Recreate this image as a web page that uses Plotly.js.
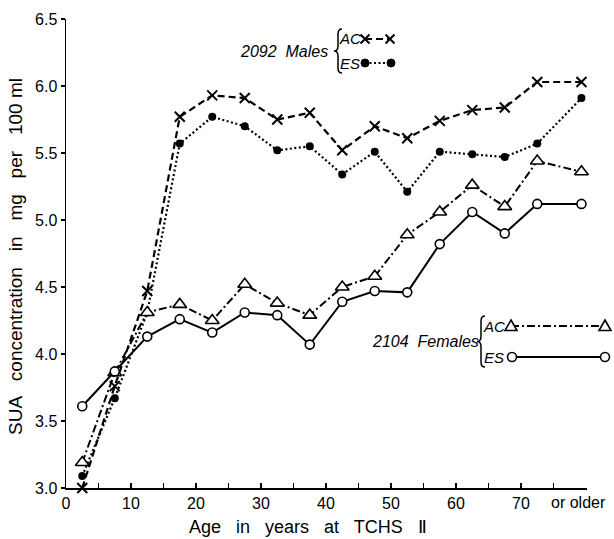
<!DOCTYPE html>
<html>
<head>
<meta charset="utf-8">
<script src="https://cdn.plot.ly/plotly-3.0.1.min.js"></script>
<style>html,body{margin:0;padding:0;background:#fff;}#chart{width:614px;height:539px;}</style>
</head>
<body>
<div id="chart"></div>
<script>
// ---- data ----
const ages = [2.5, 7.5, 12.5, 17.5, 22.5, 27.5, 32.5, 37.5, 42.5, 47.5, 52.5, 57.5, 62.5, 67.5, 72.5, 79.3];
const maleAC   = [3.00, 3.76, 4.47, 5.77, 5.93, 5.91, 5.75, 5.80, 5.52, 5.70, 5.61, 5.74, 5.82, 5.84, 6.03, 6.03];
const maleES   = [3.09, 3.67, 4.31, 5.57, 5.77, 5.70, 5.52, 5.55, 5.34, 5.51, 5.21, 5.51, 5.49, 5.47, 5.57, 5.91];
const femaleAC = [3.19, 3.86, 4.31, 4.37, 4.25, 4.52, 4.38, 4.29, 4.50, 4.58, 4.89, 5.06, 5.26, 5.10, 5.44, 5.36];
const femaleES = [3.61, 3.87, 4.13, 4.26, 4.16, 4.31, 4.29, 4.07, 4.39, 4.47, 4.46, 4.82, 5.06, 4.90, 5.12, 5.12];
const xTickVals = [0, 5, 10, 15, 20, 25, 30, 35, 40, 45, 50, 55, 60, 65, 70, 75];
const xTickText = ['0', '', '10', '', '20', '', '30', '', '40', '', '50', '', '60', '', '70', ''];
const yTickVals = [3.0, 3.5, 4.0, 4.5, 5.0, 5.5, 6.0, 6.5];
const yTickText = ['3.0', '3.5', '4.0', '4.5', '5.0', '5.5', '6.0', '6.5'];

// ---- layout geometry (pixels) ----
const W = 614, H = 539;
const L = 66, R = 587, T = 19, B = 488;
const px = v => (v - L) / (R - L);
const py = v => (B - v) / (B - T);
const FONT = 'Liberation Sans, Arial, sans-serif';
const black = '#000';

const styles = {
  mAC: {line: {color: black, width: 2.2, dash: '7px,4px'}, marker: {symbol: 'x-thin', size: 10, line: {color: black, width: 2}}},
  mES: {line: {color: black, width: 2.2, dash: '2px,2.5px'}, marker: {symbol: 'circle', size: 8, color: black}},
  fAC: {line: {color: black, width: 2, dash: '8px,3px,2px,3px'}, marker: {symbol: 'triangle-up', size: 12, color: '#fff', line: {color: black, width: 1.6}}},
  fES: {line: {color: black, width: 2}, marker: {symbol: 'circle', size: 9, color: '#fff', line: {color: black, width: 1.6}}}
};

function series(y, st) {
  return {x: ages, y: y, type: 'scatter', mode: 'lines+markers', line: st.line, marker: st.marker,
          cliponaxis: false, showlegend: false, hoverinfo: 'skip'};
}

const traces = [
  series(maleAC, styles.mAC),
  series(maleES, styles.mES),
  series(femaleAC, styles.fAC),
  series(femaleES, styles.fES)
];

// ---- legend keys and braces drawn as paper shapes ----
function P(x, y) { return px(x) + ',' + py(y); }
function keyMarker(kind, x, y) {
  const base = {xref: 'paper', yref: 'paper', layer: 'above'};
  if (kind === 'x') {
    const s = 4.5;
    return Object.assign({type: 'path', path: 'M' + P(x - s, y - s) + 'L' + P(x + s, y + s) + 'M' + P(x + s, y - s) + 'L' + P(x - s, y + s),
      line: {color: black, width: 2}}, base);
  }
  if (kind === 'dot') {
    const r = 4;
    return Object.assign({type: 'circle', x0: px(x - r), x1: px(x + r), y0: py(y + r), y1: py(y - r),
      fillcolor: black, line: {color: black, width: 1}}, base);
  }
  if (kind === 'tri') {
    const s = 6;
    return Object.assign({type: 'path', path: 'M' + P(x, y - s) + 'L' + P(x + s, y + s * 0.75) + 'L' + P(x - s, y + s * 0.75) + 'Z',
      fillcolor: '#fff', line: {color: black, width: 1.6}}, base);
  }
  const r = 4.5;
  return Object.assign({type: 'circle', x0: px(x - r), x1: px(x + r), y0: py(y + r), y1: py(y - r),
    fillcolor: '#fff', line: {color: black, width: 1.6}}, base);
}
function braceShape(x, yTop, yBot) {
  const m = (yTop + yBot) / 2, d = 4;
  const path = 'M' + P(x + d, yTop) + 'Q' + P(x, yTop) + ' ' + P(x, yTop + 5) +
               'L' + P(x, m - 5) + 'Q' + P(x, m) + ' ' + P(x - d, m) +
               'Q' + P(x, m) + ' ' + P(x, m + 5) +
               'L' + P(x, yBot - 5) + 'Q' + P(x, yBot) + ' ' + P(x + d, yBot);
  return {type: 'path', xref: 'paper', yref: 'paper', path: path, line: {color: black, width: 1.5}, layer: 'above'};
}
const keys = [
  {st: styles.mAC, kind: 'x',   x1: 365, x2: 390, y: 39},
  {st: styles.mES, kind: 'dot', x1: 365, x2: 391, y: 63},
  {st: styles.fAC, kind: 'tri', x1: 511, x2: 605, y: 326},
  {st: styles.fES, kind: 'circ', x1: 512, x2: 605, y: 357}
];
const shapes = [braceShape(338, 29, 73), braceShape(481, 316, 367)];
keys.forEach(k => {
  shapes.push({type: 'line', xref: 'paper', yref: 'paper', x0: px(k.x1), x1: px(k.x2), y0: py(k.y), y1: py(k.y),
               line: k.st.line, layer: 'above'});
  shapes.push(keyMarker(k.kind, k.x1, k.y));
  shapes.push(keyMarker(k.kind, k.x2, k.y));
});

function ann(text, x, y, size, opts) {
  return Object.assign({text: text, xref: 'paper', yref: 'paper', x: px(x), y: py(y), showarrow: false,
    xanchor: 'center', yanchor: 'middle', font: {family: FONT, size: size, color: black}}, opts || {});
}
const ital = s => ({family: FONT, size: s, color: black, style: 'italic'});

const annotations = [
  ann('2092  Males', 284, 51, 16, {font: ital(16)}),
  ann('AC', 350, 39, 15, {font: ital(15)}),
  ann('ES', 350, 63, 15, {font: ital(15)}),
  ann('2104  Females', 425, 341, 16, {font: ital(16)}),
  ann('AC', 494, 326, 15, {font: ital(15)}),
  ann('ES', 494, 357, 15, {font: ital(15)}),
  ann('or older', 578, 502, 16),
  ann('SUA   concentration   in   mg   per   100 ml', 15, 257, 19, {textangle: -90}),
  ann('Age   in   years   at   TCHS   Ⅱ', 308, 527, 18)
];

const layout = {
  width: W, height: H,
  margin: {l: L, r: W - R, t: T, b: H - B, pad: 0},
  paper_bgcolor: '#fff', plot_bgcolor: '#fff',
  showlegend: false,
  xaxis: {range: [0, (R - L) / 6.5], tickmode: 'array', tickvals: xTickVals, ticktext: xTickText,
          ticks: 'inside', ticklen: 5, tickwidth: 1.5, tickcolor: black,
          showline: true, linecolor: black, linewidth: 1.5, showgrid: false, zeroline: false,
          tickfont: {family: FONT, size: 16, color: black}, fixedrange: true},
  yaxis: {range: [3.0, 6.5], tickmode: 'array', tickvals: yTickVals, ticktext: yTickText,
          ticks: 'outside', ticklen: 4, tickwidth: 1.5, tickcolor: black,
          showline: true, linecolor: black, linewidth: 1.5, showgrid: false, zeroline: false,
          tickfont: {family: FONT, size: 16, color: black}, fixedrange: true},
  shapes: shapes,
  annotations: annotations
};

Plotly.newPlot('chart', traces, layout, {staticPlot: true, displayModeBar: false});
</script>
</body>
</html>
